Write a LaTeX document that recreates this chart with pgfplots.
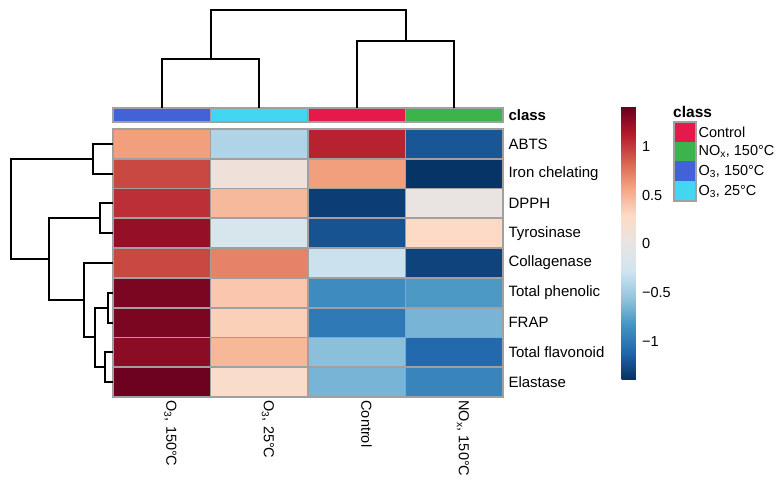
\documentclass[border=0pt]{standalone}
\usepackage{fontspec}
\setmainfont{Liberation Sans}
\usepackage{pgfplots}
\pgfplotsset{compat=1.18}
\pgfplotsset{
  colormap={rdbu}{rgb255=(5,48,97) rgb255=(33,102,172) rgb255=(67,147,195) rgb255=(146,197,222) rgb255=(209,229,240) rgb255=(232,228,226) rgb255=(253,219,199) rgb255=(244,165,130) rgb255=(214,96,77) rgb255=(178,24,43) rgb255=(103,0,31)},
}
\definecolor{cellborder}{RGB}{160,160,160}
\definecolor{cOh}{RGB}{66,99,216}
\definecolor{cOl}{RGB}{66,214,242}
\definecolor{cCtrl}{RGB}{230,25,75}
\definecolor{cNOx}{RGB}{60,180,75}
\newcommand{\lbl}{\fontsize{14.5}{17}\selectfont}
\newcommand{\rlbl}{\fontsize{15}{18}\selectfont}
\pgfplotstableread{
x y z
0 0 1.40
1 0 0.25
2 0 -0.65
3 0 -0.93
0 1 1.28
1 1 0.48
2 1 -0.58
3 1 -1.10
0 2 1.35
1 2 0.35
2 2 -1.00
3 2 -0.65
0 3 1.35
1 3 0.40
2 3 -0.88
3 3 -0.80
0 4 0.95
1 4 0.72
2 4 -0.30
3 4 -1.30
0 5 1.25
1 5 -0.20
2 5 -1.22
3 5 0.30
0 6 1.05
1 6 0.47
2 6 -1.33
3 6 0.02
0 7 0.95
1 7 0.10
2 7 0.60
3 7 -1.38
0 8 0.60
1 8 -0.42
2 8 1.10
3 8 -1.20
}\heat
\begin{document}
\begin{tikzpicture}
\useasboundingbox (0,0) rectangle (782pt,484pt);
% heatmap
\begin{axis}[
  at={(113pt,87pt)}, anchor=south west,
  scale only axis, width=390pt, height=268pt,
  xmin=-0.5, xmax=3.5, ymin=-0.5, ymax=8.5,
  axis on top,
  axis line style={cellborder, line width=1.8pt},
  xtick={0,1,2,3}, ytick={0,1,2,3,4,5,6,7,8},
  minor xtick={0.5,1.5,2.5}, minor ytick={0.5,1.5,2.5,3.5,4.5,5.5,6.5,7.5},
  minor grid style={cellborder, line width=1.8pt},
  grid=minor,
  major tick length=0pt, minor tick length=0pt,
  xticklabels={{O\textsubscript{3}, 150°C},{O\textsubscript{3}, 25°C},Control,{NO\textsubscript{x}, 150°C}},
  yticklabels={Elastase,Total flavonoid,FRAP,Total phenolic,Collagenase,Tyrosinase,DPPH,Iron chelating,ABTS},
  yticklabel pos=right,
  yticklabel style={font=\rlbl, anchor=west, xshift=2pt},
  xticklabel style={font=\lbl, xshift=4.7pt, rotate=-90, anchor=base west},
  colormap name=rdbu,
  point meta min=-1.40, point meta max=1.42,
  colorbar,
  colorbar style={
    at={(parent axis.south east)}, anchor=south west, xshift=110pt, yshift=17pt,
    scale only axis, width=20pt, height=274pt,
    axis line style={draw=none}, major tick length=0pt, grid=none,
    ytick={-1,-0.5,0,0.5,1}, yticklabels={−1,−0.5,0,0.5,1},
    yticklabel style={font=\lbl, xshift=-3pt},
  },
]
\addplot[matrix plot*, mesh/cols=4, point meta=explicit] table[meta=z] {\heat};
\end{axis}
% class bar
\begin{axis}[
  at={(113pt,362pt)}, anchor=south west,
  scale only axis, width=390pt, height=14pt,
  xmin=-0.5, xmax=3.5, ymin=-0.5, ymax=0.5,
  axis on top,
  axis line style={cellborder, line width=1.8pt},
  xtick=\empty, ytick={0}, yticklabels={\textbf{class}},
  yticklabel pos=right, major tick length=0pt,
  yticklabel style={font=\rlbl, anchor=west, xshift=2pt},
]
\addplot[fill=cOh, draw=cellborder, line width=1.8pt] coordinates {(-0.5,-0.5) (0.5,-0.5) (0.5,0.5) (-0.5,0.5)} -- cycle;
\addplot[fill=cOl, draw=cellborder, line width=1.8pt] coordinates {(0.5,-0.5) (1.5,-0.5) (1.5,0.5) (0.5,0.5)} -- cycle;
\addplot[fill=cCtrl, draw=cellborder, line width=1.8pt] coordinates {(1.5,-0.5) (2.5,-0.5) (2.5,0.5) (1.5,0.5)} -- cycle;
\addplot[fill=cNOx, draw=cellborder, line width=1.8pt] coordinates {(2.5,-0.5) (3.5,-0.5) (3.5,0.5) (2.5,0.5)} -- cycle;
\end{axis}
% top dendrogram
\begin{axis}[
  at={(113pt,376pt)}, anchor=south west,
  scale only axis, width=390pt, height=98pt,
  xmin=-0.5, xmax=3.5, ymin=0, ymax=98,
  axis lines=none, clip=false,
]
\addplot[black, line width=2pt] coordinates {(0,0) (0,49) (1,49) (1,0)};
\addplot[black, line width=2pt] coordinates {(2,0) (2,66.6) (3,66.6) (3,0)};
\addplot[black, line width=2pt] coordinates {(0.5,49) (0.5,97.5) (2.5,97.5) (2.5,66.6)};
\end{axis}
% left dendrogram
\begin{axis}[
  at={(0pt,87pt)}, anchor=south west,
  scale only axis, width=113pt, height=268pt,
  xmin=0, xmax=113, ymin=-0.5, ymax=8.5,
  axis lines=none, clip=false,
]
\addplot[black, line width=2pt] coordinates {(113,8) (93,8) (93,7) (113,7)};
\addplot[black, line width=2pt] coordinates {(113,6) (100,6) (100,5) (113,5)};
\addplot[black, line width=2pt] coordinates {(113,3) (107.7,3) (107.7,2) (113,2)};
\addplot[black, line width=2pt] coordinates {(113,1) (104.7,1) (104.7,0) (113,0)};
\addplot[black, line width=2pt] coordinates {(107.7,2.5) (95,2.5) (95,0.5) (104.7,0.5)};
\addplot[black, line width=2pt] coordinates {(113,4) (84.3,4) (84.3,1.5) (95,1.5)};
\addplot[black, line width=2pt] coordinates {(100,5.5) (49.3,5.5) (49.3,2.75) (84.3,2.75)};
\addplot[black, line width=2pt] coordinates {(93,7.5) (10.7,7.5) (10.7,4.125) (49.3,4.125)};
\end{axis}
% legend
\begin{axis}[
  at={(674pt,283pt)}, anchor=south west,
  scale only axis, width=22pt, height=79pt,
  xmin=0, xmax=1, ymin=0, ymax=4,
  axis on top,
  axis line style={cellborder, line width=1.8pt},
  xtick=\empty, ytick={0.5,1.5,2.5,3.5},
  yticklabels={{O\textsubscript{3}, 25°C},{O\textsubscript{3}, 150°C},{NO\textsubscript{x}, 150°C},Control},
  yticklabel pos=right, major tick length=0pt,
  yticklabel style={font=\lbl, anchor=west, xshift=-1pt},
  title={\textbf{class}},
  title style={at={(0,1)}, anchor=south west, inner sep=0pt, xshift=-1pt, yshift=-1.5pt, font=\fontsize{15.5}{18}\selectfont},
]
\addplot[fill=cOl, draw=none] coordinates {(0,0) (1,0) (1,1) (0,1)} -- cycle;
\addplot[fill=cOh, draw=none] coordinates {(0,1) (1,1) (1,2) (0,2)} -- cycle;
\addplot[fill=cNOx, draw=none] coordinates {(0,2) (1,2) (1,3) (0,3)} -- cycle;
\addplot[fill=cCtrl, draw=none] coordinates {(0,3) (1,3) (1,4) (0,4)} -- cycle;
\end{axis}
\end{tikzpicture}
\end{document}
